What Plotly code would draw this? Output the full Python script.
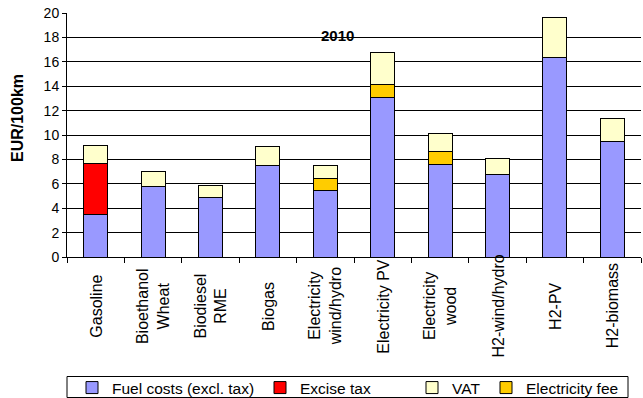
import plotly.graph_objects as go

# Cost per 100 km by fuel pathway, 2010 (EUR/100km)
categories = [
    "Gasoline", "Bioethanol Wheat", "Biodiesel RME", "Biogas",
    "Electricity wind/hydro", "Electricity PV", "Electricity wood",
    "H2-wind/hydro", "H2-PV", "H2-biomass",
]
category_labels = [
    "Gasoline", "Bioethanol<br>Wheat", "Biodiesel<br>RME", "Biogas",
    "Electricity<br>wind/hydro", "Electricity PV", "Electricity<br>wood",
    "H2-wind/hydro", "H2-PV", "H2-biomass",
]
fuel_costs = [3.50, 5.75, 4.87, 7.50, 5.42, 13.09, 7.61, 6.76, 16.32, 9.45]
excise_tax = [4.17, 0.00, 0.00, 0.00, 0.00, 0.00, 0.00, 0.00, 0.00, 0.00]
electricity_fee = [0.00, 0.00, 0.00, 0.00, 1.02, 1.01, 1.02, 0.00, 0.00, 0.00]
vat = [1.43, 1.23, 1.02, 1.54, 1.09, 2.64, 1.50, 1.35, 3.29, 1.92]

y_ticks = [0, 2, 4, 6, 8, 10, 12, 14, 16, 18, 20]

FONT = "Arial, Liberation Sans, sans-serif"
line = dict(color="black", width=1)

# plot area in pixels, used to turn pixel positions into paper fractions
W, H = 643, 398
ML, MR, MT, MB = 67, 2, 13, 141
PW, PH = W - ML - MR, H - MT - MB


def px(x):
    return (x - ML) / PW


def py(y):
    return (H - MB - y) / PH


fig = go.Figure()
# stacking order bottom -> top: fuel, excise, electricity fee, VAT;
# each series gets its own legend so the entries can be spaced freely
fig.add_trace(go.Bar(name="Fuel costs (excl. tax)", x=categories, y=fuel_costs,
                     marker=dict(color="#9999FF", line=line), legend="legend"))
fig.add_trace(go.Bar(name="Excise tax", x=categories, y=excise_tax,
                     marker=dict(color="#FF0000", line=line), legend="legend2"))
fig.add_trace(go.Bar(name="Electricity fee", x=categories, y=electricity_fee,
                     marker=dict(color="#FFCC00", line=line), legend="legend4"))
fig.add_trace(go.Bar(name="VAT", x=categories, y=vat,
                     marker=dict(color="#FFFFCC", line=line), legend="legend3"))


def legend_at(left_px):
    return dict(
        orientation="h", x=px(left_px), xanchor="left", y=py(388), yanchor="middle",
        borderwidth=0, bgcolor="rgba(0,0,0,0)", font=dict(size=15.5, family=FONT),
        itemwidth=30,
    )


# category names, rotated and centred under each bar
label_annotations = [
    dict(text=lab, x=cat, xref="x", y=py(306), yref="paper",
         yanchor="middle", xanchor="center", textangle=-90, align="center",
         showarrow=False, font=dict(size=16, family=FONT), borderpad=0)
    for cat, lab in zip(categories, category_labels)
]

fig.update_layout(
    barmode="stack",
    bargap=0.58,
    width=W, height=H,
    margin=dict(l=ML, r=MR, t=MT, b=MB, autoexpand=False),
    paper_bgcolor="white", plot_bgcolor="white",
    font=dict(family=FONT, color="black", size=14),
    showlegend=True,
    legend=legend_at(72),
    legend2=legend_at(260),
    legend3=legend_at(412),
    legend4=legend_at(486),
    shapes=[dict(
        type="rect", xref="paper", yref="paper",
        x0=px(67), x1=px(628), y0=py(376.5), y1=py(397.5),
        line=dict(color="black", width=1), fillcolor="rgba(0,0,0,0)",
    )],
    annotations=[
        dict(text="<b>2010</b>", x=px(337), y=py(25), xref="paper", yref="paper",
             showarrow=False, font=dict(size=15, family=FONT)),
        dict(text="<b>EUR/100km</b>", x=px(17), y=py(118), xref="paper", yref="paper",
             xanchor="center", yanchor="middle", textangle=-90, showarrow=False,
             font=dict(size=16, family=FONT)),
    ] + label_annotations,
)

fig.update_xaxes(
    showline=True, linecolor="black", linewidth=1,
    ticks="outside", tickson="boundaries", ticklen=5, tickcolor="black",
    showticklabels=False, showgrid=False, automargin=False,
)
fig.update_yaxes(
    range=[0, 20], tickvals=y_ticks, ticktext=[str(v) for v in y_ticks],
    showline=True, linecolor="black", linewidth=1,
    ticks="outside", ticklen=4, tickcolor="black",
    showgrid=True, gridcolor="black", gridwidth=1, zeroline=False,
    tickfont=dict(size=14), automargin=False,
)

fig.write_html("out.html")
